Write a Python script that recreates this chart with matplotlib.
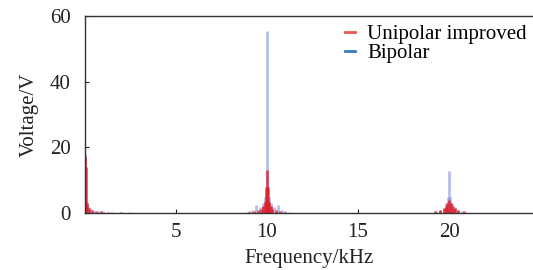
import matplotlib
matplotlib.use("Agg")
import matplotlib.pyplot as plt
from matplotlib.lines import Line2D

plt.rcParams['font.family'] = ['Liberation Serif', 'DejaVu Serif']

# Unipolar improved spectrum (kHz, V)
uni_freq = [0.02, 0.08, 0.15, 0.25, 0.4, 0.6, 0.9, 1.3, 2.0,
            9.0, 9.3, 9.5, 9.7, 9.8, 9.9, 9.95, 10.0, 10.05, 10.1, 10.2, 10.3, 10.5, 10.7, 11.0,
            19.2, 19.5, 19.7, 19.8, 19.9, 20.0, 20.1, 20.2, 20.3, 20.5, 20.8]
uni_amp = [17.5, 14.0, 3.0, 1.5, 1.0, 0.7, 0.5, 0.3, 0.2,
           0.3, 0.5, 0.8, 1.2, 2.0, 3.5, 8.0, 13.0, 8.0, 3.5, 2.0, 1.2, 0.8, 0.5, 0.3,
           0.5, 0.8, 1.5, 2.0, 3.0, 4.0, 3.0, 2.0, 1.5, 0.8, 0.5]

# Bipolar spectrum (kHz, V)
bip_freq = [0.02, 0.1, 0.2, 0.3, 0.45, 0.7, 1.0, 1.5, 2.5,
            8.8, 9.0, 9.2, 9.4, 9.6, 9.8, 9.9, 10.0, 10.1, 10.2, 10.4, 10.6, 10.8, 11.0, 11.2,
            19.3, 19.5, 19.7, 19.85, 19.95, 20.0, 20.05, 20.15, 20.3, 20.5, 20.7]
bip_amp = [18.0, 3.0, 2.0, 1.5, 1.0, 0.6, 0.5, 0.4, 0.3,
           0.4, 0.7, 1.0, 2.5, 1.8, 3.0, 5.0, 55.5, 5.0, 3.0, 1.8, 2.5, 1.0, 0.7, 0.4,
           0.5, 0.8, 1.5, 3.0, 5.0, 12.8, 5.0, 3.0, 1.5, 0.8, 0.5]

xticks = [5, 10, 15, 20]
yticks = [0, 20, 40, 60]

fig = plt.figure(figsize=(5.33, 2.70), dpi=100)
ax = fig.add_axes([0.159, 0.211, 0.841, 0.730])

ax.vlines(bip_freq, 0, bip_amp, color='#8a90dc', alpha=0.6, lw=2.0)
ax.vlines(uni_freq, 0, uni_amp, color='#e01f26', alpha=0.85, lw=1.8)

ax.set_xlim(0, 24.6)
ax.set_ylim(0, 60)
ax.set_xticks(xticks)
ax.set_yticks(yticks)
ax.tick_params(direction='in', labelsize=15, length=3, colors='#222222')
ax.tick_params(axis='y', pad=10)
ax.tick_params(axis='x', pad=7)
for s in ['left', 'top', 'bottom']:
    ax.spines[s].set_color('#333333')
    ax.spines[s].set_linewidth(1.0)
ax.spines['right'].set_visible(False)

ax.set_xlabel('Frequency/kHz', fontsize=15, color='#222222', labelpad=5)
ax.set_ylabel('Voltage/V', fontsize=15, color='#222222', labelpad=8)

handles = [Line2D([0], [0], color='#e8564f', lw=2),
           Line2D([0], [0], color='#3a78c0', lw=2)]
ax.legend(handles, ['Unipolar improved', 'Bipolar'], loc='upper right',
          frameon=False, fontsize=15, handlelength=0.45, handletextpad=0.6,
          labelspacing=0.0, borderaxespad=0.0, bbox_to_anchor=(1.005, 1.0))

fig.savefig('out.png', dpi=100)
